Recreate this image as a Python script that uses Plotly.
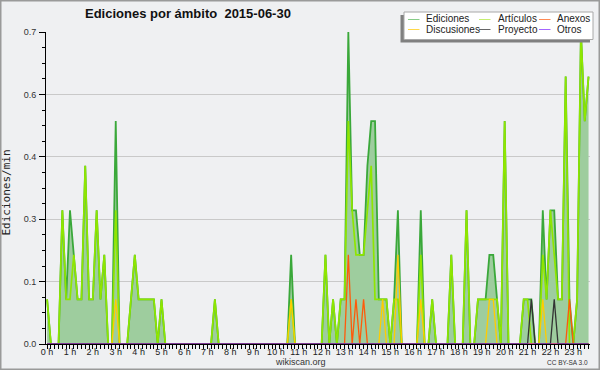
import plotly.graph_objects as go

# ---- data: 10-minute bins, 2015-06-30 (edits per minute) ----
minutes = list(range(0, 1430, 10))  # 0:00 .. 23:40 bin starts (143 bins)

ediciones = [
    0.1, 0, 0, 0, 0.3, 0.1, 0.3, 0.2, 0.1, 0.1, 0.4, 0.1,
    0.1, 0.3, 0.1, 0.2, 0, 0, 0.5, 0, 0, 0, 0.1, 0.2,
    0.1, 0.1, 0.1, 0.1, 0.1, 0, 0.1, 0, 0, 0, 0, 0,
    0, 0, 0, 0, 0, 0, 0, 0, 0.1, 0, 0, 0,
    0, 0, 0, 0, 0, 0, 0, 0, 0, 0, 0, 0,
    0, 0, 0, 0, 0.2, 0, 0, 0, 0, 0, 0, 0,
    0, 0.2, 0, 0.1, 0, 0.1, 0.1, 0.7, 0.3, 0.3, 0.2, 0.2,
    0.4, 0.5, 0.5, 0.1, 0.1, 0.1, 0, 0.1, 0.3, 0, 0, 0,
    0, 0, 0.3, 0, 0, 0.1, 0, 0, 0, 0, 0.2, 0,
    0, 0, 0.3, 0, 0, 0.1, 0.1, 0.1, 0.2, 0.2, 0.1, 0,
    0.5, 0, 0, 0, 0, 0.1, 0.1, 0.1, 0, 0, 0.3, 0.1,
    0.3, 0.3, 0.1, 0.1, 0.6, 0.1, 0, 0.1, 0.7, 0.5, 0.6,
]

articulos = [
    0.1, 0, 0, 0, 0.3, 0.1, 0.1, 0.2, 0.1, 0.1, 0.4, 0.1,
    0.1, 0.3, 0.1, 0.2, 0, 0, 0.3, 0, 0, 0, 0.1, 0.2,
    0.1, 0.1, 0.1, 0.1, 0.1, 0, 0.1, 0, 0, 0, 0, 0,
    0, 0, 0, 0, 0, 0, 0, 0, 0.1, 0, 0, 0,
    0, 0, 0, 0, 0, 0, 0, 0, 0, 0, 0, 0,
    0, 0, 0, 0, 0.1, 0, 0, 0, 0, 0, 0, 0,
    0, 0.2, 0, 0.1, 0, 0.1, 0.1, 0.5, 0.3, 0.2, 0.2, 0.2,
    0.3, 0.4, 0.1, 0.1, 0.1, 0.1, 0, 0.1, 0.1, 0, 0, 0,
    0, 0, 0.2, 0, 0, 0.1, 0, 0, 0, 0, 0.2, 0,
    0, 0, 0.3, 0, 0, 0.1, 0.1, 0.1, 0.1, 0.1, 0.1, 0,
    0.5, 0, 0, 0, 0, 0.1, 0.1, 0, 0, 0, 0.2, 0.1,
    0.3, 0.2, 0.1, 0.1, 0.6, 0, 0, 0.1, 0.7, 0.5, 0.6,
]

anexos = [
    0, 0, 0, 0, 0, 0, 0, 0, 0, 0, 0, 0,
    0, 0, 0, 0, 0, 0, 0, 0, 0, 0, 0, 0,
    0, 0, 0, 0, 0, 0, 0, 0, 0, 0, 0, 0,
    0, 0, 0, 0, 0, 0, 0, 0, 0, 0, 0, 0,
    0, 0, 0, 0, 0, 0, 0, 0, 0, 0, 0, 0,
    0, 0, 0, 0, 0, 0, 0, 0, 0, 0, 0, 0,
    0, 0, 0, 0, 0, 0, 0, 0.2, 0, 0.1, 0, 0.1,
    0, 0, 0, 0, 0, 0, 0, 0, 0, 0, 0, 0,
    0, 0, 0, 0, 0, 0, 0, 0, 0, 0, 0, 0,
    0, 0, 0, 0, 0, 0, 0, 0, 0, 0, 0, 0,
    0, 0, 0, 0, 0, 0, 0, 0, 0, 0, 0, 0,
    0, 0, 0, 0, 0, 0.1, 0, 0, 0, 0, 0,
]

discusiones = [
    0, 0, 0, 0, 0, 0, 0, 0, 0, 0, 0, 0,
    0, 0, 0, 0, 0, 0, 0.1, 0, 0, 0, 0, 0,
    0, 0, 0, 0, 0, 0, 0, 0, 0, 0, 0, 0,
    0, 0, 0, 0, 0, 0, 0, 0, 0, 0, 0, 0,
    0, 0, 0, 0, 0, 0, 0, 0, 0, 0, 0, 0,
    0, 0, 0, 0, 0.1, 0, 0, 0, 0, 0, 0, 0,
    0, 0, 0, 0, 0, 0, 0, 0, 0, 0, 0, 0,
    0, 0, 0, 0, 0.1, 0, 0, 0, 0.2, 0, 0, 0,
    0, 0, 0.1, 0, 0, 0, 0, 0, 0, 0, 0, 0,
    0, 0, 0, 0, 0, 0, 0, 0, 0.1, 0.1, 0, 0,
    0, 0, 0, 0, 0, 0, 0, 0, 0, 0, 0.1, 0,
    0, 0, 0, 0, 0, 0, 0, 0, 0, 0, 0,
]

proyecto = [
    0, 0, 0, 0, 0, 0, 0, 0, 0, 0, 0, 0,
    0, 0, 0, 0, 0, 0, 0, 0, 0, 0, 0, 0,
    0, 0, 0, 0, 0, 0, 0, 0, 0, 0, 0, 0,
    0, 0, 0, 0, 0, 0, 0, 0, 0, 0, 0, 0,
    0, 0, 0, 0, 0, 0, 0, 0, 0, 0, 0, 0,
    0, 0, 0, 0, 0, 0, 0, 0, 0, 0, 0, 0,
    0, 0, 0, 0, 0, 0, 0, 0, 0, 0, 0, 0,
    0, 0, 0, 0, 0, 0, 0, 0, 0, 0, 0, 0,
    0, 0, 0, 0, 0, 0, 0, 0, 0, 0, 0, 0,
    0, 0, 0, 0, 0, 0, 0, 0, 0, 0, 0, 0,
    0, 0, 0, 0, 0, 0, 0, 0.1, 0, 0, 0, 0,
    0, 0.1, 0, 0, 0, 0, 0, 0, 0, 0, 0,
]

otros = [
    0, 0, 0, 0, 0, 0, 0, 0, 0, 0, 0, 0,
    0, 0, 0, 0, 0, 0, 0, 0, 0, 0, 0, 0,
    0, 0, 0, 0, 0, 0, 0, 0, 0, 0, 0, 0,
    0, 0, 0, 0, 0, 0, 0, 0, 0, 0, 0, 0,
    0, 0, 0, 0, 0, 0, 0, 0, 0, 0, 0, 0,
    0, 0, 0, 0, 0, 0, 0, 0, 0, 0, 0, 0,
    0, 0, 0, 0, 0, 0, 0, 0, 0, 0, 0, 0,
    0, 0, 0, 0, 0, 0, 0, 0, 0, 0, 0, 0,
    0, 0, 0, 0, 0, 0, 0, 0, 0, 0, 0, 0,
    0, 0, 0, 0, 0, 0, 0, 0, 0, 0, 0, 0,
    0, 0, 0, 0, 0, 0, 0, 0, 0, 0, 0, 0,
    0, 0, 0, 0, 0, 0, 0, 0, 0, 0, 0,
]

hour_ticks = [0, 60, 120, 180, 240, 300, 360, 420, 480, 540, 600, 660,
              720, 780, 840, 900, 960, 1020, 1080, 1140, 1200, 1260, 1320, 1380]
hour_labels = ["0 h", "1 h", "2 h", "3 h", "4 h", "5 h", "6 h", "7 h", "8 h", "9 h",
               "10 h", "11 h", "12 h", "13 h", "14 h", "15 h", "16 h", "17 h",
               "18 h", "19 h", "20 h", "21 h", "22 h", "23 h"]
y_ticks = [0, 0.14, 0.28, 0.42, 0.56, 0.70]
y_labels = ["0.0", "0.1", "0.3", "0.4", "0.6", "0.7"]

series_names = ["Ediciones", "Artículos", "Anexos", "Discusiones", "Proyecto", "Otros"]
series_colors = ["#3aa83a", "#8fe600", "#ff5a0a", "#ffcc00", "#333333", "#9933ff"]

# ---- figure ----
W, H = 600, 370
L, R, T, B = 46, 10, 32, 26
PW, PH = W - L - R, H - T - B


def px(x):
    return (x - L) / PW


def py(y):
    return (H - B - y) / PH


fig = go.Figure()
fig.add_trace(go.Scatter(
    x=minutes, y=ediciones, name=series_names[0], mode="lines",
    fill="tozeroy", fillcolor="rgb(158,205,158)",
    line=dict(color=series_colors[0], width=1.8), showlegend=False))
fig.add_trace(go.Scatter(
    x=minutes, y=articulos, name=series_names[1], mode="lines",
    line=dict(color=series_colors[1], width=1.7), showlegend=False))
fig.add_trace(go.Scatter(
    x=minutes, y=discusiones, name=series_names[3], mode="lines",
    line=dict(color=series_colors[3], width=1.3), showlegend=False))
fig.add_trace(go.Scatter(
    x=minutes, y=anexos, name=series_names[2], mode="lines",
    line=dict(color=series_colors[2], width=1.3), showlegend=False))
fig.add_trace(go.Scatter(
    x=minutes, y=proyecto, name=series_names[4], mode="lines",
    line=dict(color=series_colors[4], width=1.3), showlegend=False))
fig.add_trace(go.Scatter(
    x=minutes, y=otros, name=series_names[5], mode="lines",
    line=dict(color=series_colors[5], width=1.0), showlegend=False))

font_main = "Liberation Sans, Arial, sans-serif"

fig.update_layout(
    width=W, height=H,
    margin=dict(l=L, r=R, t=T, b=B, pad=0),
    paper_bgcolor="#eff0f2", plot_bgcolor="#eff0f2",
    showlegend=False,
    font=dict(family=font_main, size=9, color="#222222"),
    xaxis=dict(
        range=[-2.9, 1423.8], tickvals=hour_ticks, ticktext=hour_labels,
        ticks="outside", ticklen=4, tickwidth=1, tickcolor="black",
        showline=True, linecolor="black", linewidth=1,
        showgrid=False, zeroline=False, layer="above traces",
        minor=dict(dtick=10, tick0=0, ticks="outside", ticklen=4,
                   tickwidth=1, tickcolor="black", showgrid=False),
        tickfont=dict(family=font_main, size=9, color="#222222"),
        ticklabelstandoff=-5,
    ),
    yaxis=dict(
        range=[0, 0.7], tickvals=y_ticks, ticktext=y_labels,
        ticks="outside", ticklen=6, tickwidth=1, tickcolor="black",
        showline=True, linecolor="black", linewidth=1,
        showgrid=True, gridcolor="#c9c9c9", gridwidth=1,
        zeroline=False, layer="above traces",
        minor=dict(dtick=0.035, tick0=0, ticks="outside", ticklen=3,
                   tickwidth=1, tickcolor="black", showgrid=False),
        tickfont=dict(family=font_main, size=9, color="#333333"),
        ticklabelstandoff=1,
    ),
)

shapes = []
# outer frame
shapes.append(dict(type="rect", xref="paper", yref="paper",
                   x0=px(0.75), x1=px(W - 0.75), y0=py(0.75), y1=py(H - 0.75),
                   line=dict(color="#9a9a9a", width=1.5), layer="above"))
# legend shadow and box
shapes.append(dict(type="rect", xref="paper", yref="paper",
                   x0=px(400.5), x1=px(590), y0=py(15), y1=py(42.5),
                   line=dict(width=0), fillcolor="#808080", layer="above"))
shapes.append(dict(type="rect", xref="paper", yref="paper",
                   x0=px(404), x1=px(593), y0=py(12), y1=py(39.5),
                   line=dict(color="#a8a8a8", width=1), fillcolor="white", layer="above"))

legend_layout = [  # (name index, line x0, line x1, text x, row y)
    (0, 408, 419.5, 424, 19.5),
    (1, 479, 490.5, 495.5, 19.5),
    (2, 539, 550.5, 554.5, 19.5),
    (3, 408, 419.5, 424, 29.5),
    (4, 479, 490.5, 495.5, 29.5),
    (5, 539, 550.5, 554.5, 29.5),
]
legend_swatch = ["#88cc88", "#c6ee70", "#ff8a55", "#ffd84a", "#666666", "#a466ff"]
annotations = []
for idx, lx0, lx1, tx, ry in legend_layout:
    shapes.append(dict(type="line", xref="paper", yref="paper",
                       x0=px(lx0), x1=px(lx1), y0=py(ry), y1=py(ry),
                       line=dict(color=legend_swatch[idx], width=1), layer="above"))
    annotations.append(dict(xref="paper", yref="paper", x=px(tx), y=py(ry - 0.5),
                            text=series_names[idx], showarrow=False,
                            xanchor="left", yanchor="middle",
                            font=dict(family=font_main, size=10, color="#222222")))

# title
annotations.append(dict(xref="paper", yref="paper", x=px(188), y=py(14),
                        text="<b>Ediciones por ámbito\u00a0\u00a02015-06-30</b>",
                        showarrow=False, xanchor="center", yanchor="middle",
                        font=dict(family=font_main, size=13, color="#111111")))
# y-axis title
annotations.append(dict(xref="paper", yref="paper", x=px(6.5), y=py(193),
                        text="Ediciones/min", textangle=-90, showarrow=False,
                        xanchor="center", yanchor="middle",
                        font=dict(family="DejaVu Sans Mono, monospace", size=11,
                                  color="#222222")))
# footer
annotations.append(dict(xref="paper", yref="paper", x=px(300), y=py(362),
                        text="wikiscan.org", showarrow=False,
                        xanchor="center", yanchor="middle",
                        font=dict(family=font_main, size=9, color="#333333")))
annotations.append(dict(xref="paper", yref="paper", x=px(589.5), y=py(362.5),
                        text="CC BY-SA 3.0", showarrow=False,
                        xanchor="right", yanchor="middle",
                        font=dict(family=font_main, size=6.5, color="#333333")))

fig.update_layout(shapes=shapes, annotations=annotations)
fig.write_html(
    "out.html",
    config={"displayModeBar": False},
    post_script="document.body.style.margin='0px';document.body.style.padding='0px';"
                "document.body.style.overflow='hidden';",
)
